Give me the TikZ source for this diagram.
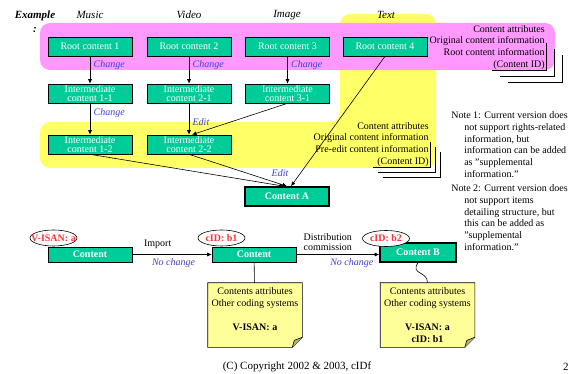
\documentclass[tikz,border=0pt]{standalone}
\usepackage{fontspec}
\setmainfont{Liberation Serif}
\usepackage{tikz}
\usetikzlibrary{arrows.meta, positioning, shapes}

\definecolor{boxgreen}{RGB}{0,204,153}
\definecolor{rootpink}{RGB}{255,153,255}
\definecolor{edityellow}{RGB}{255,255,102}
\definecolor{noteyellow}{RGB}{255,255,153}
\definecolor{labelblue}{RGB}{64,64,204}
\definecolor{idred}{RGB}{255,51,51}

\tikzset{
	content/.style={draw, fill=boxgreen, text=white, minimum width=84pt, minimum height=19pt,
		inner sep=0pt, align=center, font=\fontsize{10}{9.5}\selectfont},
	heavy/.style={line width=1.6pt},
	arr/.style={-{Latex[length=4.5pt,width=4pt]}},
	change/.style={anchor=west, text=labelblue, font=\fontsize{10}{12}\selectfont\itshape},
	category/.style={font=\fontsize{11}{13}\selectfont\itshape},
	attr/.style={align=right, inner sep=1pt, font=\fontsize{10}{11.7}\selectfont},
	remark/.style={align=left, inner sep=1pt, font=\fontsize{10}{11.9}\selectfont},
	idtag/.style={ellipse, draw, fill=white, text=idred, minimum width=47pt, minimum height=16pt,
		inner xsep=-6pt, inner ysep=0pt, font=\fontsize{10}{12}\selectfont\bfseries},
	notepaper/.style={fill=noteyellow, minimum width=94pt, minimum height=64pt, inner sep=1pt,
		align=center, font=\fontsize{10}{11.8}\selectfont}
}

% outline of a note with a folded corner
\newcommand{\foldnote}[1]{%
	\fill[white] ([xshift=-10pt]#1.south east) -- (#1.south east) -- ([yshift=10pt]#1.south east) -- cycle;
	\draw (#1.north west) -- (#1.north east) -- ([yshift=10pt]#1.south east)
		-- ([xshift=-10pt]#1.south east) -- (#1.south west) -- cycle;
	\filldraw[fill=noteyellow!70!black] ([xshift=-10pt]#1.south east) -- ([xshift=-8pt,yshift=7pt]#1.south east)
		-- ([yshift=10pt]#1.south east);
}

\begin{document}
\begin{tikzpicture}[x=1pt, y=-1pt, line width=0.6pt]

\useasboundingbox (0,0) rectangle (570,374);

% coloured regions
\fill[edityellow, rounded corners=10pt] (40,122) -- (340,122) -- (340,14) -- (436,14) -- (436,168) -- (40,168) -- cycle;
\fill[rootpink, rounded corners=10pt] (40,23) rectangle (555,70);

\node[align=center, font=\fontsize{11}{14}\selectfont\bfseries\itshape] (example) at (35,22) {Example\\:};

\node[category] (music) at (90,15) {Music};
\node[category] (video) at (189,15) {Video};
\node[category] (image) at (287,15) {Image};
\node[category] (text) at (386,15) {Text};

% root contents
\node[content] (root1) at (90,46.5) {Root content 1};
\node[content] (root2) at (189,46.5) {Root content 2};
\node[content] (root3) at (287.5,46.5) {Root content 3};
\node[content] (root4) at (385,46.5) {Root content 4};

% intermediate contents
\node[content] (mid11) at (90,93.5) {Intermediate\\content 1-1};
\node[content] (mid21) at (189,93.5) {Intermediate\\content 2-1};
\node[content] (mid31) at (287.5,93.5) {Intermediate\\content 3-1};
\node[content] (mid12) at (90,144.5) {Intermediate\\content 1-2};
\node[content] (mid22) at (189,144.5) {Intermediate\\content 2-2};

\node[content, heavy] (contA) at (287,196.5) {\textbf{Content A}};

\draw[arr] (root1) -- node[change, pos=0.32] {Change} (mid11);
\draw[arr] (root2) -- node[change, pos=0.32] {Change} (mid21);
\draw[arr] (root3) -- node[change, pos=0.32] {Change} (mid31);
\draw[arr] (mid11) -- node[change, pos=0.31] {Change} (mid12);
\draw[arr] (mid21) -- node[change, pos=0.59] {Edit} (mid22);
\draw[arr] (mid31.south) -- ([xshift=3pt]mid22.north);
\draw[arr] (mid12.south) -- ([xshift=-3pt]contA.north);
\draw[arr] (mid22.south) -- (contA.north);
\draw[arr] (root4.south) -- ([xshift=4pt]contA.north);
\node[text=labelblue, font=\fontsize{10}{12}\selectfont\itshape] (editA) at (280,173) {Edit};

% attribute lists
\node[attr, anchor=north east] (rootattr) at (546,24) {Content attributes\\Original content information\\Root content information\\(Content ID)};
\node[attr, anchor=north east] (editattr) at (430,121) {Content attributes\\Original content information\\Pre-edit content information\\(Content ID)};

\foreach \k in {0,1,2} {
	\draw ([shift={(\k*8-54,\k*6)}]rootattr.south east) -- ([shift={(\k*8,\k*6)}]rootattr.south east)
		-- ([shift={(\k*8,\k*6-28)}]rootattr.south east);
	\draw ([shift={(\k*5-57,\k*5)}]editattr.south east) -- ([shift={(\k*5,\k*5)}]editattr.south east)
		-- ([shift={(\k*5,\k*5-26)}]editattr.south east);
}

% notes
\node[remark, anchor=north west] (note1) at (450,110) {Note 1: Current version does\\
	\hspace*{13pt}not support rights-related\\
	\hspace*{13pt}information, but\\
	\hspace*{13pt}information can be added\\
	\hspace*{13pt}as "supplemental\\
	\hspace*{13pt}information."};
\node[remark, anchor=north west] (note2) at (450,183) {Note 2: Current version does\\
	\hspace*{13pt}not support items\\
	\hspace*{13pt}detailing structure, but\\
	\hspace*{13pt}this can be added as\\
	\hspace*{13pt}"supplemental\\
	\hspace*{13pt}information."};

% identifiers of one content
\node[content, minimum height=15pt] (cont1) at (90,254.5) {\textbf{Content}};
\node[content, minimum height=15pt] (cont2) at (254,254.5) {\textbf{Content}};
\node[content, heavy, minimum width=76pt] (contB) at (418,252.5) {\textbf{Content B}};

\node[idtag] (visan) at (53.5,238) {V-ISAN: a};
\node[idtag] (cid1) at (221.5,238) {cID: b1};
\node[idtag] (cid2) at (386,238.5) {cID: b2};

\draw[arr] (cont1) -- node[above=2pt, pos=0.32, font=\fontsize{10}{12}\selectfont] {Import}
	node[below, pos=0.52, text=labelblue, font=\fontsize{10}{12}\selectfont\itshape] {No change} (cont2);
\draw[arr] (cont2.east) -- node[above, pos=0.38, align=left, font=\fontsize{10}{10.5}\selectfont] {Distribution\\commission}
	node[below, pos=0.67, text=labelblue, font=\fontsize{10}{12}\selectfont\itshape] {No change} (cont2.east -| contB.west);

\node[notepaper] (memo1) at (255,315) {Contents attributes\\Other coding systems\\[11.8pt]\textbf{V-ISAN: a}\\\phantom{cID: b1}};
\node[notepaper] (memo2) at (427.5,315) {Contents attributes\\Other coding systems\\[11.8pt]\textbf{V-ISAN: a}\\\textbf{cID: b1}};
\foldnote{memo1}
\foldnote{memo2}

\draw (cont2) -- (memo1);
\draw (contB.south) .. controls ([shift={(-8,12)}]contB.south) and ([shift={(0,-12)}]memo2.north) .. (memo2.north);

\node[font=\fontsize{11}{13}\selectfont] (copyright) at (297,367) {(C) Copyright 2002 \& 2003, cIDf};
\node[font=\fontsize{11}{13}\selectfont, anchor=east, inner sep=1pt] (pagenum) at (570,367) {2};

\end{tikzpicture}
\end{document}
